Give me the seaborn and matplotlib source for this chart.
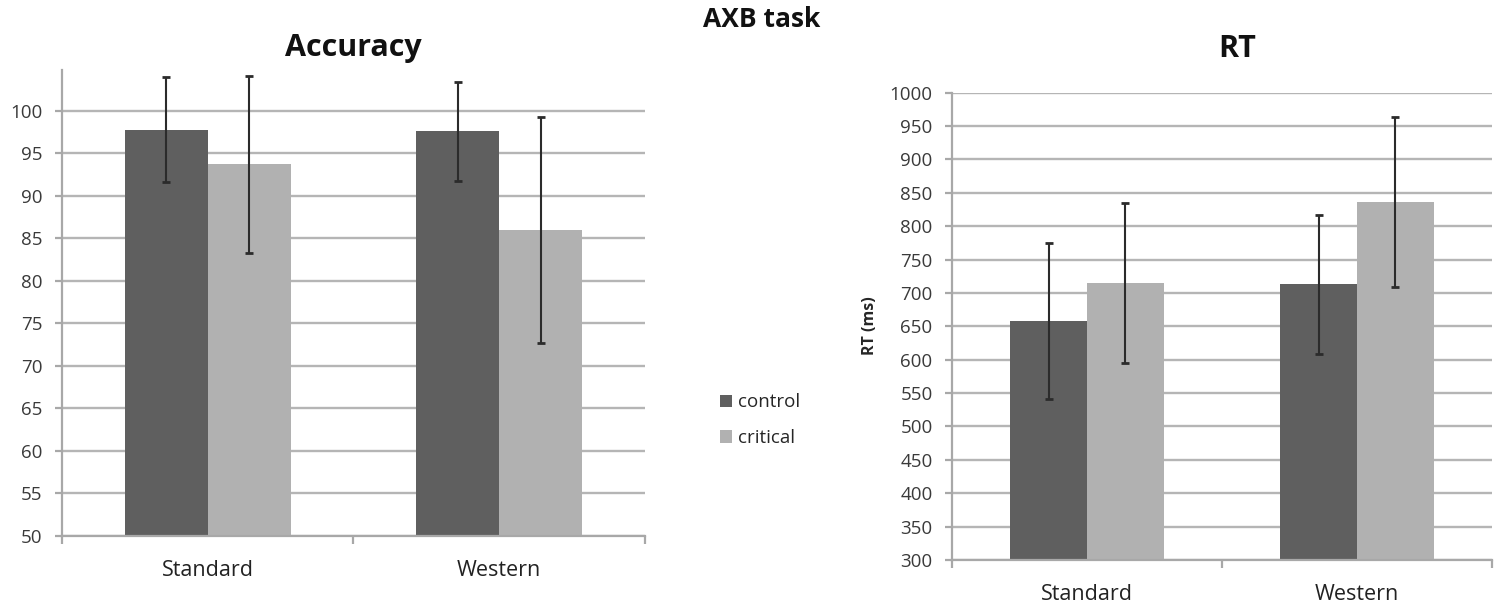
import matplotlib
matplotlib.use("Agg")
import matplotlib.pyplot as plt
import pandas as pd
import seaborn as sns

# Group means and standard deviations for the AXB discrimination task
groups = ["Standard", "Western"]
conditions = ["control", "critical"]

acc_control = [97.8, 97.6]
acc_control_sd = [6.2, 5.8]
acc_critical = [93.7, 86.0]
acc_critical_sd = [10.4, 13.3]

rt_control = [658, 713]
rt_control_sd = [117, 104]
rt_critical = [715, 836]
rt_critical_sd = [120, 127]

acc_ticks = list(range(50, 101, 5))
rt_ticks = list(range(300, 1001, 50))

bar_colors = ["#5f5f5f", "#b1b1b1"]
grid_color = "#b5b5b5"
axis_color = "#a8a8a8"
text_color = "#3a3a3a"

sns.set_style("white")
plt.rcParams["font.family"] = ["Open Sans", "DejaVu Sans"]


def long_frame(control, critical):
    rows = []
    for g, v in zip(groups, control):
        rows.append({"group": g, "condition": "control", "value": v})
    for g, v in zip(groups, critical):
        rows.append({"group": g, "condition": "critical", "value": v})
    return pd.DataFrame(rows)


def draw_panel(ax, control, control_sd, critical, critical_sd, ylim, yticks):
    df = long_frame(control, critical)
    sns.barplot(data=df, x="group", y="value", hue="condition",
                hue_order=conditions, order=groups, palette=bar_colors,
                width=0.57, gap=0, saturation=1, errorbar=None,
                linewidth=0, ax=ax)
    # error bars at the centre of each bar
    for container, sds in zip(ax.containers, [control_sd, critical_sd]):
        for bar, sd in zip(container, sds):
            x = bar.get_x() + bar.get_width() / 2
            ax.errorbar(x, bar.get_height(), yerr=sd, fmt="none",
                        ecolor="#2b2b2b", elinewidth=1.5, capsize=3,
                        capthick=2, zorder=5)
    ax.set_xlim(-0.5, 1.5)
    ax.set_ylim(*ylim)
    ax.set_yticks(yticks)
    ax.set_axisbelow(True)
    ax.yaxis.grid(True, color=grid_color, linewidth=1.7)
    ax.xaxis.grid(False)
    for side in ["top", "right"]:
        ax.spines[side].set_visible(False)
    for side in ["left", "bottom"]:
        ax.spines[side].set_color(axis_color)
        ax.spines[side].set_linewidth(1.6)
    ax.set_xticks([-0.5, 0.5, 1.5], minor=True)
    ax.tick_params(axis="x", which="major", length=0, pad=17,
                   labelsize=15.5, labelcolor="#222222")
    ax.tick_params(axis="x", which="minor", length=6, width=1.6,
                   color=axis_color, direction="out", bottom=True)
    ax.tick_params(axis="y", which="major", length=5, width=1.6,
                   color=axis_color, direction="out", left=True, pad=9,
                   labelsize=13.5, labelcolor=text_color)
    ax.set_xlabel("")
    ax.set_ylabel("")
    legend = ax.get_legend()
    handles, labels = ax.get_legend_handles_labels()
    if legend is not None:
        legend.remove()
    return handles, labels


fig = plt.figure(figsize=(15.04, 6.10), dpi=100)
ax_acc = fig.add_axes([0.0412, 0.1213, 0.3876, 0.7639])
ax_rt = fig.add_axes([0.6330, 0.0820, 0.3590, 0.7660])

handles, labels = draw_panel(ax_acc, acc_control, acc_control_sd,
                             acc_critical, acc_critical_sd,
                             (50, 104.8), acc_ticks)
draw_panel(ax_rt, rt_control, rt_control_sd, rt_critical, rt_critical_sd,
           (300, 1000), rt_ticks)

fig.text(0.5066, 0.968, "AXB task", ha="center", va="center",
         fontsize=19, fontweight="bold", color="#111111")
fig.text(0.2350, 0.922, "Accuracy", ha="center", va="center",
         fontsize=22, fontweight="bold", color="#111111")
fig.text(0.8224, 0.919, "RT", ha="center", va="center",
         fontsize=22, fontweight="bold", color="#111111")
fig.text(0.5785, 0.467, "RT (ms)", ha="center", va="center",
         rotation=90, fontsize=11.5, fontweight="bold", color="#262626")

fig.legend(handles, labels, loc="center left",
           bbox_to_anchor=(0.4675, 0.311), frameon=False,
           fontsize=13.5, handlelength=0.65, handleheight=0.65,
           handletextpad=0.3, labelspacing=0.95, labelcolor="#262626")

fig.savefig("out.png", dpi=100)
